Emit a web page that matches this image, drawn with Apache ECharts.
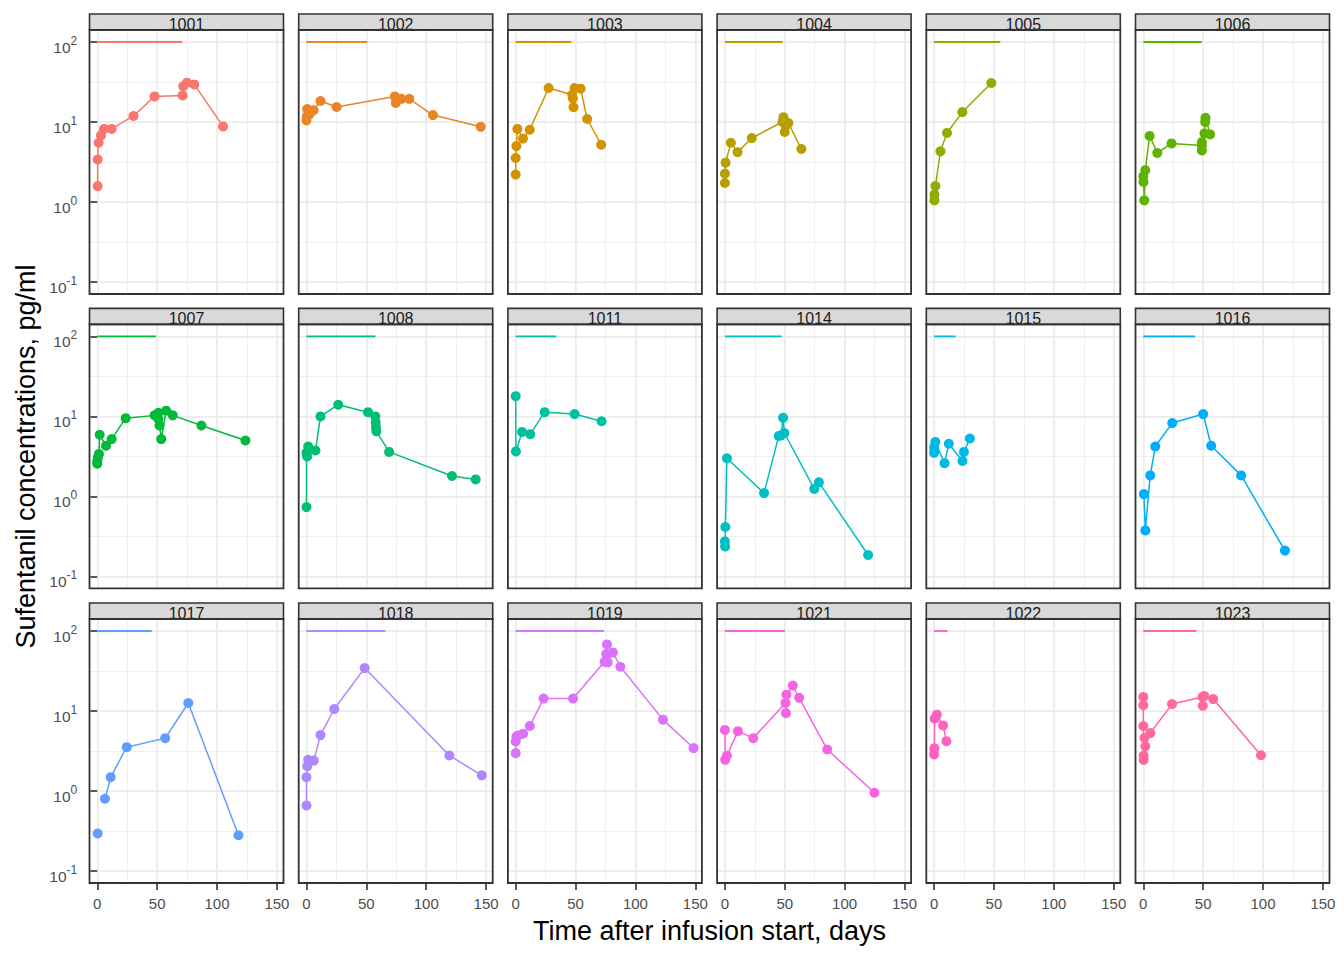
<!DOCTYPE html>
<html>
<head>
<meta charset="utf-8">
<script src="https://cdn.jsdelivr.net/npm/echarts@6/dist/echarts.min.js"></script>
<style>
html, body { margin: 0; padding: 0; background: #ffffff; }
#chart { width: 1344px; height: 960px; }
</style>
</head>
<body>
<div id="chart"></div>
<script>
// ---------------- data ----------------
const SUBJECTS = ['1001','1002','1003','1004','1005','1006','1007','1008','1011','1014','1015','1016','1017','1018','1019','1021','1022','1023'];
const INFUSION_DAYS = [71, 50.8, 46.4, 48.3, 55.3, 48.9, 48.9, 57.5, 33.9, 47.5, 18, 43.3, 45.5, 65.9, 73.7, 50.1, 11.1, 44.3];
const INFUSION_LEVEL = 100;

const T_1001 = [0.3, 0.3, 1.1, 3.1, 5.6, 12, 30.2, 47.8, 71.2, 71.8, 74.9, 81, 105];
const C_1001 = [1.58, 3.4, 5.5, 6.8, 8.2, 8.2, 11.9, 20.9, 21.5, 28, 31, 29.5, 8.8];
const T_1002 = [0, 0.3, 0.6, 2.5, 5.9, 11.7, 25.1, 73.7, 74.6, 79.3, 85.8, 105.6, 145.5];
const C_1002 = [10.5, 11.8, 14.5, 12.5, 14, 18.3, 15.4, 20.9, 17.3, 19.5, 19.5, 12.2, 8.7];
const T_1003 = [0, 0, 0.6, 1.4, 6.1, 11.7, 27.5, 47.2, 47.8, 48.3, 49.2, 54.2, 59.7, 71.4];
const C_1003 = [2.2, 3.55, 5.0, 8.2, 6.2, 8.0, 26.6, 21.9, 19.6, 15.3, 26.6, 26.1, 10.9, 5.2];
const T_1004 = [0, 0, 0.6, 5, 10.6, 22.5, 48, 48.9, 50, 50.8, 53, 63.9];
const C_1004 = [1.73, 2.26, 3.1, 5.5, 4.2, 6.3, 10, 11.5, 7.5, 9.0, 9.7, 4.6];
const T_1005 = [0.3, 0.3, 1.1, 5.3, 10.8, 23.6, 47.8];
const C_1005 = [1.05, 1.24, 1.58, 4.3, 7.3, 13.3, 30.7];
const T_1006 = [0, 0.2, 0.8, 1.7, 5.3, 11.7, 23.6, 48.9, 48.9, 48.9, 51.1, 51.7, 51.9, 55.8];
const C_1006 = [2.1, 1.78, 1.05, 2.5, 6.7, 4.1, 5.4, 5.1, 4.4, 5.6, 7.2, 10, 11.3, 7.0];
const T_1007 = [0, 0, 0.6, 1.4, 2, 7.3, 12, 23.7, 47.8, 51, 51, 52, 53.4, 57.5, 63, 86.9, 123.7];
const C_1007 = [2.56, 2.8, 3.1, 3.4, 5.9, 4.3, 5.2, 9.5, 10.3, 11.1, 9.3, 7.7, 5.2, 11.8, 10.3, 7.7, 5.0];
const T_1008 = [0, 0, 0.6, 1.4, 7.5, 11.7, 26.5, 51.4, 57.5, 57.8, 58, 58.4, 69, 121.5, 141.3];
const C_1008 = [0.735, 3.5, 3.16, 4.2, 3.76, 10, 14, 11.3, 10, 8.4, 7.3, 6.5, 3.6, 1.8, 1.63];
const T_1011 = [0, 0.2, 5.3, 12.2, 24.2, 49.2, 71.7];
const C_1011 = [17.9, 3.65, 6.4, 6.0, 11.3, 10.7, 8.7];
const T_1014 = [0, 0.2, 0.4, 1.7, 32.7, 45, 46.9, 48.6, 49.7, 74.6, 78.5, 119.6];
const C_1014 = [0.274, 0.237, 0.414, 3.0, 1.1, 5.7, 5.8, 9.6, 6.2, 1.24, 1.5, 0.185];
const T_1015 = [0, 0, 1, 8.7, 12.3, 23.7, 24.9, 29.9];
const C_1015 = [3.5, 4.1, 4.8, 2.6, 4.55, 2.77, 3.6, 5.3];
const T_1016 = [0.5, 1.7, 5.8, 10, 24.2, 50, 56.7, 81.7, 118.3];
const C_1016 = [1.07, 0.376, 1.83, 4.2, 8.25, 10.7, 4.3, 1.83, 0.21];
const T_1017 = [0.3, 6.4, 11.2, 24.6, 56.7, 76, 117.9];
const C_1017 = [0.294, 0.80, 1.49, 3.53, 4.58, 12.6, 0.28];
const T_1018 = [0, 0, 0.6, 1.4, 6.1, 11.7, 23.2, 48.6, 119.3, 146.4];
const C_1018 = [0.66, 1.49, 2.04, 2.45, 2.4, 5.0, 10.6, 34.4, 2.78, 1.57];
const T_1019 = [0, 0, 0.6, 2, 6.2, 11.8, 23.3, 47.9, 74.2, 75.6, 76.2, 76.8, 81.2, 87.4, 123, 148.5];
const C_1019 = [2.97, 4.16, 4.8, 4.95, 5.2, 6.5, 14.3, 14.3, 41.2, 51.4, 68, 40.5, 54, 35.7, 7.8, 3.44];
const T_1021 = [0, 0.3, 1.7, 10.9, 23.7, 50.6, 51, 51.4, 56.7, 62, 85.5, 124.9];
const C_1021 = [5.8, 2.45, 2.78, 5.6, 4.58, 12.6, 9.4, 16, 20.8, 14.6, 3.3, 0.95];
const T_1022 = [0, 0.2, 0.5, 2.3, 7.5, 10.3];
const C_1022 = [2.86, 3.43, 8.0, 9.0, 6.6, 4.2];
const T_1023 = [0, 0, 0, 0.3, 0.3, 1, 1.7, 5.9, 24, 49.4, 49.7, 51, 58.4, 98.3];
const C_1023 = [15, 11.8, 6.5, 2.45, 2.78, 4.62, 3.63, 5.3, 12.2, 15, 11.6, 15.4, 14.1, 2.8];

// first observation not joined by the line
const LINE_FROM_INDEX = { '1017': 1 };

const X_TICKS = [0, 50, 100, 150];
const Y_TICKS = [0.1, 1, 10, 100];
const X_TITLE = 'Time after infusion start, days';
const Y_TITLE = 'Sufentanil concentrations, pg/ml';

const TIMES = [T_1001, T_1002, T_1003, T_1004, T_1005, T_1006, T_1007, T_1008, T_1011, T_1014, T_1015, T_1016, T_1017, T_1018, T_1019, T_1021, T_1022, T_1023];
const CONCS = [C_1001, C_1002, C_1003, C_1004, C_1005, C_1006, C_1007, C_1008, C_1011, C_1014, C_1015, C_1016, C_1017, C_1018, C_1019, C_1021, C_1022, C_1023];

// ---------------- layout / style ----------------
const FONT = '"Liberation Sans", Arial, sans-serif';
const COL_LEFT = [89.5, 298.7, 507.9, 717.1, 926.3, 1135.5];
const ROW_TOP = [30, 324.4, 619];
const PANEL_W = 194, PANEL_H = 264, STRIP_H = 16;
const X_MIN = -6.5, X_MAX = 155.5;
const Y_MIN = Math.pow(10, -1.15), Y_MAX = Math.pow(10, 2.15);

// ggplot2 default hue palette (HCL, c=100, l=65)
function hclColor(h, c, l) {
  const WX = 95.047, WY = 100.0, WZ = 108.883;
  const hr = h * Math.PI / 180;
  const U = c * Math.cos(hr), V = c * Math.sin(hr);
  const Y = WY * (l > 7.999592 ? Math.pow((l + 16) / 116, 3) : l / 903.3);
  const t = WX + WY + WZ, x0 = WX / t, y0 = WY / t;
  const uN = 2 * x0 / (6 * y0 - x0 + 1.5), vN = 4.5 * y0 / (6 * y0 - x0 + 1.5);
  const u = U / (13 * l) + uN, v = V / (13 * l) + vN;
  const X = 9.0 * Y * u / (4 * v);
  const Z = -X / 3 - 5 * Y + 3 * Y / v;
  const g = x => x > 0.00304 ? 1.055 * Math.pow(x, 1 / 2.4) - 0.055 : 12.92 * x;
  const ch = x => {
    const n = Math.round(Math.max(0, Math.min(1, g(x / WY))) * 255);
    return n.toString(16).padStart(2, '0');
  };
  return '#' + ch(3.240479 * X - 1.537150 * Y - 0.498535 * Z) +
               ch(-0.969256 * X + 1.875992 * Y + 0.041556 * Z) +
               ch(0.055648 * X - 0.204043 * Y + 1.057311 * Z);
}
const N = SUBJECTS.length;
const COLORS = SUBJECTS.map((_, i) => hclColor(15 + 360 / N * i, 100, 65));

const grids = [], xAxes = [], yAxes = [], series = [], graphics = [];

SUBJECTS.forEach((id, i) => {
  const r = Math.floor(i / 6), c = i % 6;
  const left = COL_LEFT[c], top = ROW_TOP[r];
  const bottomRow = r === 2, leftCol = c === 0;
  const color = COLORS[i];

  grids.push({ left: left, top: top, width: PANEL_W, height: PANEL_H, show: false, containLabel: false });

  // main x axis
  xAxes.push({
    gridIndex: i, type: 'value', position: 'bottom', min: X_MIN, max: X_MAX,
    minInterval: 50, maxInterval: 50,
    axisLine: { show: false },
    axisTick: { show: bottomRow, customValues: X_TICKS, length: 7, lineStyle: { color: '#333333', width: 1.6 } },
    axisLabel: { show: bottomRow, customValues: X_TICKS, margin: 13, fontSize: 15, color: '#4D4D4D', fontFamily: FONT },
    splitLine: { show: true, lineStyle: { color: '#EBEBEB', width: 1.6 } }
  });
  // minor x grid
  xAxes.push({
    gridIndex: i, type: 'value', position: 'top', min: X_MIN, max: X_MAX,
    minInterval: 25, maxInterval: 25,
    axisLine: { show: false }, axisTick: { show: false }, axisLabel: { show: false },
    splitLine: { show: true, lineStyle: { color: '#EBEBEB', width: 0.8 } }
  });
  // main y axis (log)
  yAxes.push({
    gridIndex: i, type: 'log', logBase: 10, position: 'left', min: Y_MIN, max: Y_MAX,
    axisLine: { show: false },
    axisTick: { show: leftCol, customValues: Y_TICKS, length: 7, lineStyle: { color: '#333333', width: 1.6 } },
    axisLabel: {
      show: leftCol, customValues: Y_TICKS, margin: 12, padding: [6, 0, 0, 0],
      formatter: v => '{b|10}{s|' + Math.round(Math.log10(v)) + '}{p| }',
      rich: {
        b: { fontSize: 15.5, lineHeight: 17, verticalAlign: 'bottom', color: '#4D4D4D', fontFamily: FONT },
        s: { fontSize: 12, lineHeight: 12, verticalAlign: 'top', color: '#4D4D4D', fontFamily: FONT },
        p: { fontSize: 1, lineHeight: 20 }
      }
    },
    splitLine: { show: true, lineStyle: { color: '#EBEBEB', width: 1.6 } }
  });
  // minor y grid (half decades)
  yAxes.push({
    gridIndex: i, type: 'log', logBase: Math.sqrt(10), position: 'right', min: Y_MIN, max: Y_MAX,
    axisLine: { show: false }, axisTick: { show: false }, axisLabel: { show: false },
    splitLine: { show: true, lineStyle: { color: '#EBEBEB', width: 0.8 } }
  });

  const xi = 2 * i, yi = 2 * i;
  const pts = TIMES[i].map((t, k) => [t, CONCS[i][k]]);

  series.push({
    type: 'line', xAxisIndex: xi, yAxisIndex: yi, silent: true, z: 3,
    data: [[0, INFUSION_LEVEL], [INFUSION_DAYS[i], INFUSION_LEVEL]],
    symbol: 'none', showSymbol: false,
    lineStyle: { color: color, width: 1.9 }
  });
  series.push({
    type: 'line', xAxisIndex: xi, yAxisIndex: yi, silent: true, z: 3,
    data: pts.slice(LINE_FROM_INDEX[id] || 0),
    symbol: 'none', showSymbol: false,
    lineStyle: { color: color, width: 1.5 }
  });
  series.push({
    type: 'scatter', xAxisIndex: xi, yAxisIndex: yi, silent: true, z: 4,
    data: pts, symbol: 'circle', symbolSize: 10,
    itemStyle: { color: color, opacity: 1 }
  });

  // strip
  graphics.push({
    type: 'rect', z: 100,
    shape: { x: left, y: top - STRIP_H, width: PANEL_W, height: STRIP_H },
    style: { fill: '#D9D9D9', stroke: '#333333', lineWidth: 1.6 }
  });
  graphics.push({
    type: 'text', z: 101, x: left + PANEL_W / 2, y: top - 6,
    style: { text: id, fill: '#1A1A1A', font: '16px ' + FONT, align: 'center', verticalAlign: 'middle', textAlign: 'center', textVerticalAlign: 'middle' }
  });
  // panel border
  graphics.push({
    type: 'rect', z: 102,
    shape: { x: left, y: top, width: PANEL_W, height: PANEL_H },
    style: { fill: 'none', stroke: '#333333', lineWidth: 1.8 }
  });
});

// axis titles
graphics.push({
  type: 'text', z: 110, x: (COL_LEFT[0] + COL_LEFT[5] + PANEL_W) / 2, y: 931,
  style: { text: X_TITLE, fill: '#000000', font: '27px ' + FONT, align: 'center', verticalAlign: 'middle', textAlign: 'center', textVerticalAlign: 'middle' }
});
graphics.push({
  type: 'text', z: 110, x: 25.5, y: (ROW_TOP[0] + ROW_TOP[2] + PANEL_H) / 2, rotation: Math.PI / 2,
  style: { text: Y_TITLE, fill: '#000000', font: '27px ' + FONT, align: 'center', verticalAlign: 'middle', textAlign: 'center', textVerticalAlign: 'middle' }
});

const chart = echarts.init(document.getElementById('chart'), null, { renderer: 'svg' });
chart.setOption({
  animation: false,
  backgroundColor: '#ffffff',
  textStyle: { fontFamily: FONT },
  grid: grids,
  xAxis: xAxes,
  yAxis: yAxes,
  series: series,
  graphic: { elements: graphics }
});
</script>
</body>
</html>
